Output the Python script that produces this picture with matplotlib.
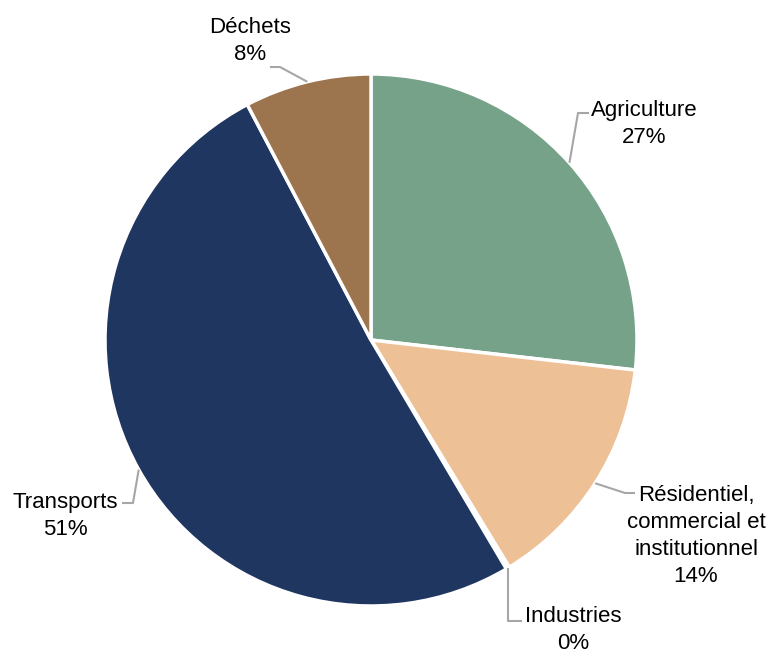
import numpy as np
import matplotlib
matplotlib.use("Agg")
import matplotlib.pyplot as plt

plt.rcParams['font.family'] = ['Liberation Sans', 'DejaVu Sans']

categories = ["Agriculture", "Résidentiel,\ncommercial et\ninstitutionnel", "Industries", "Transports", "Déchets"]
values = [26.8, 14.5, 0.2, 50.8, 7.7]
pct_labels = ["27%", "14%", "0%", "51%", "8%"]
colors = ["#76A28A", "#EDC096", "#D9D9D9", "#1F3660", "#9C754E"]

W, H = 767, 655
CX, CY, R = 371, 340, 266


def px(x, y):
    return ((x - CX) / R, (CY - y) / R)


fig = plt.figure(figsize=(W / 100, H / 100), dpi=100)
ax = fig.add_axes([0, 0, 1, 1])
wedges, _ = ax.pie(values, colors=colors, startangle=90, counterclock=False,
                   radius=1, wedgeprops=dict(edgecolor="white", linewidth=2.5))
ax.set_xlim(-CX / R, (W - CX) / R)
ax.set_ylim(-(H - CY) / R, CY / R)
ax.set_aspect('auto')
ax.axis('off')

# label layout (pixel positions): last-line baseline anchor, leader path (elbow, end)
layout = [
    dict(text=(644, 143), path=[(578, 113), (589, 113)]),
    dict(text=(696, 582), path=[(625, 493), (635, 493)]),
    dict(text=(573, 649), path=[(511, 621), (522, 621)]),
    dict(text=(65, 535), path=[(133, 503), (122, 503)]),
    dict(text=(250, 60), path=[(280, 67), (270, 67)]),
]

cum = np.cumsum([0] + values[:-1])
total = sum(values)
for i, (cat, v, lab) in enumerate(zip(categories, values, pct_labels)):
    mid = (cum[i] + v / 2) / total * 2 * np.pi
    sx, sy = np.sin(mid), np.cos(mid)
    pts = [(sx, sy)] + [px(*p) for p in layout[i]["path"]]
    if i == 2:
        pts = [(sx, sy), (sx, px(0, 621)[1]), px(522, 621)]
    xs, ys = zip(*pts)
    ax.plot(xs, ys, color="#A6A6A6", lw=1.5, solid_capstyle='butt', zorder=1)
    tx, ty = px(*layout[i]["text"])
    ax.text(tx, ty, f"{cat}\n{lab}", ha='center', va='baseline', fontsize=16,
            linespacing=1.38, color="#000000")

fig.savefig("out.png", dpi=100)
